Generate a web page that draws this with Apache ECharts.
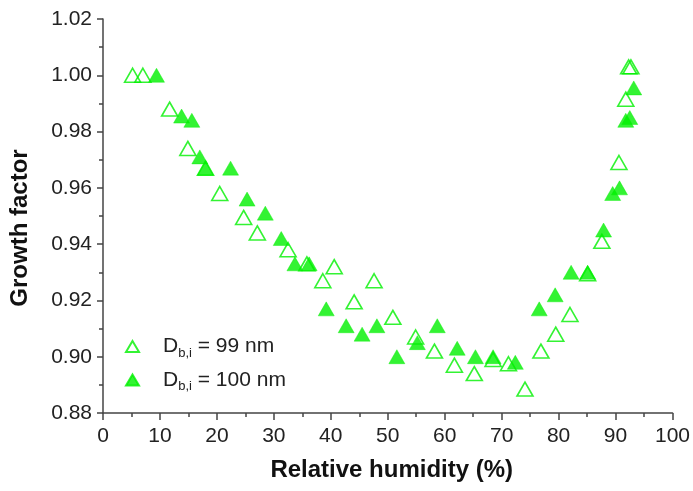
<!DOCTYPE html>
<html>
<head>
<meta charset="utf-8">
<script src="https://cdn.jsdelivr.net/npm/echarts@6/dist/echarts.min.js"></script>
<style>html,body{margin:0;padding:0;background:#fff}#c{width:693px;height:491px}</style>
</head>
<body>
<div id="c"></div>
<script>
var rh99 = [5.2, 7.0, 11.7, 14.9, 18.0, 20.5, 24.7, 27.1, 32.5, 35.8, 38.6, 40.6, 44.1, 47.6, 50.9, 54.9, 58.2, 61.7, 65.2, 68.5, 71.2, 74.1, 76.9, 79.5, 82.0, 85.1, 87.6, 90.6, 91.8, 92.3, 92.7];
var gf99 = [1.000, 1.000, 0.988, 0.974, 0.967, 0.958, 0.9495, 0.944, 0.938, 0.933, 0.927, 0.932, 0.9195, 0.927, 0.914, 0.907, 0.902, 0.897, 0.894, 0.899, 0.8975, 0.8885, 0.902, 0.908, 0.915, 0.9295, 0.941, 0.969, 0.9915, 1.003, 1.003];
var rh100 = [9.4, 13.8, 15.6, 17.0, 18.0, 22.4, 25.3, 28.5, 31.3, 33.7, 36.2, 39.2, 42.7, 45.5, 48.1, 51.6, 55.2, 58.7, 62.2, 65.4, 68.5, 72.4, 76.6, 79.4, 82.2, 85.1, 87.9, 89.5, 90.7, 91.8, 92.5, 93.2];
var gf100 = [1.000, 0.9855, 0.984, 0.971, 0.967, 0.967, 0.956, 0.951, 0.942, 0.933, 0.933, 0.917, 0.911, 0.908, 0.911, 0.900, 0.905, 0.911, 0.903, 0.900, 0.900, 0.898, 0.917, 0.922, 0.930, 0.930, 0.945, 0.958, 0.960, 0.984, 0.985, 0.9955];
var seriesNames = ['D_b,i = 99 nm', 'D_b,i = 100 nm'];
var legendSuffix = [' = 99 nm', ' = 100 nm'];

function pairs(xs, ys) { return xs.map(function (x, i) { return [x, ys[i]]; }); }

var green = '#00f000';
var font = 'Liberation Sans, Arial, sans-serif';
var chart = echarts.init(document.getElementById('c'));
chart.setOption({
  animation: false,
  backgroundColor: '#fff',
  grid: { left: 103, right: 18, top: 19, bottom: 78, containLabel: false },
  xAxis: {
    type: 'value', min: 0, max: 100, interval: 10,
    name: 'Relative humidity (%)', nameLocation: 'middle', nameGap: 45,
    nameTextStyle: { fontFamily: font, fontSize: 24, fontWeight: 'bold', color: '#111', padding: [0, 0, 0, 8] },
    axisLine: { show: true, onZero: false, lineStyle: { color: '#444', width: 1.5 } },
    axisTick: { show: true, inside: false, length: 7, lineStyle: { color: '#444', width: 1.5 } },
    minorTick: { show: true, splitNumber: 2, length: 4, lineStyle: { color: '#444', width: 1.5 } },
    axisLabel: { margin: 13, fontFamily: font, fontSize: 21, color: '#222' },
    splitLine: { show: false }
  },
  yAxis: {
    type: 'value', min: 0.88, max: 1.02, interval: 0.02,
    name: 'Growth factor', nameLocation: 'middle', nameGap: 71,
    nameTextStyle: { fontFamily: font, fontSize: 24, fontWeight: 'bold', color: '#111', padding: [0, 24, 0, 0] },
    axisLine: { show: true, onZero: false, lineStyle: { color: '#444', width: 1.5 } },
    axisTick: { show: true, inside: false, length: 6, lineStyle: { color: '#444', width: 1.5 } },
    minorTick: { show: true, splitNumber: 2, length: 4, lineStyle: { color: '#444', width: 1.5 } },
    axisLabel: { margin: 11, fontFamily: font, fontSize: 21, color: '#222',
      formatter: function (v) { return v.toFixed(2); } },
    splitLine: { show: false }
  },
  legend: {
    orient: 'vertical', left: 125, top: 336, padding: 0, itemGap: 10,
    itemWidth: 13, itemHeight: 11,
    data: seriesNames,
    formatter: function (name) {
      var i = seriesNames.indexOf(name);
      return '{g| }{d|D}{s|b,i}{d|' + legendSuffix[i] + '}';
    },
    textStyle: {
      fontFamily: font, color: '#222',
      rich: {
        g: { width: 19, fontSize: 10, lineHeight: 26 },
        d: { fontFamily: font, fontSize: 21, lineHeight: 26, color: '#222' },
        s: { fontFamily: font, fontSize: 13, lineHeight: 13, verticalAlign: 'bottom', color: '#222' }
      }
    }
  },
  series: [
    {
      name: seriesNames[0], type: 'scatter', data: pairs(rh99, gf99),
      symbol: 'triangle', symbolSize: [16, 14],
      itemStyle: { color: 'transparent', borderColor: green, borderWidth: 1.6 },
      z: 3
    },
    {
      name: seriesNames[1], type: 'scatter', data: pairs(rh100, gf100),
      symbol: 'triangle', symbolSize: [16, 14],
      itemStyle: { color: green, borderColor: green, borderWidth: 0.5 },
      z: 2
    }
  ]
});
</script>
</body>
</html>
